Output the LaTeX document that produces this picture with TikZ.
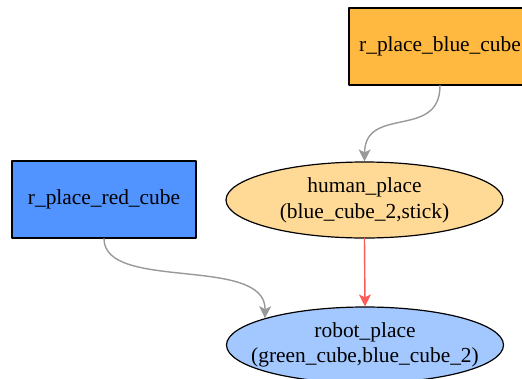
\documentclass[tikz,border=0pt]{standalone}
\usepackage{fontspec}
\setmainfont{Liberation Serif}
\usetikzlibrary{arrows.meta}
\usetikzlibrary{shapes.geometric}
\definecolor{cubeorange}{HTML}{FFB840}
\definecolor{cubeblue}{HTML}{5193FF}
\definecolor{humanfill}{HTML}{FFD996}
\definecolor{robotfill}{HTML}{A3C8FF}
\definecolor{edgegray}{HTML}{999999}
\definecolor{edgered}{HTML}{FF5A5A}
\tikzset{
  action/.style={rectangle,draw=black,line width=1.2pt,inner sep=0pt,minimum height=77pt,font=\fontsize{21.4}{25.7}\selectfont},
  place/.style={ellipse,draw=black,line width=1.2pt,inner sep=0pt,minimum width=277pt,minimum height=76pt,align=center,font=\fontsize{21.4}{25.7}\selectfont},
  link/.style={line width=1.4pt,-{Stealth[length=12pt,width=12pt,inset=3pt]}}
}

\begin{document}
\begin{tikzpicture}[x=1pt,y=-1pt,line cap=round,line join=round]
\useasboundingbox (0,0) rectangle (522,378);
\clip (0,0) rectangle (522,378);
% actions
\node[action,fill=cubeorange,minimum width=182pt] (bluecube) at (440,46.5) {r\_place\_blue\_cube};
\node[action,fill=cubeblue,minimum width=184pt] (redcube) at (104,199.5) {r\_place\_red\_cube};
% places
\node[place,fill=humanfill] (human) at (364.5,200) {human\_place\\(blue\_cube\_2,stick)};
\node[place,fill=robotfill,inner xsep=-16pt] (robot) at (365,345) {robot\_place\\(green\_cube,blue\_cube\_2)};
% edges
\draw[link,color=edgegray] (bluecube.south) .. controls (440,140) and (365,105) .. (human.north);
\draw[link,color=edgegray] (redcube.south) .. controls (104,292) and (266,255) .. (robot.165);
\draw[link,color=edgered] (human.south) -- (robot.north);
\end{tikzpicture}
\end{document}
